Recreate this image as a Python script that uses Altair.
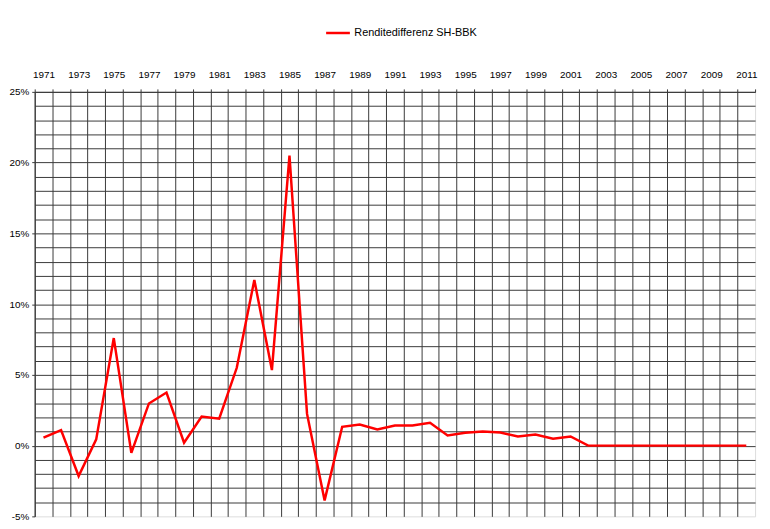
import altair as alt
import pandas as pd

years = list(range(1971, 2012))
values = [0.56, 1.1, -2.15, 0.44, 7.6, -0.51, 2.98, 3.75, 0.21, 2.05,
          1.9, 5.5, 11.7, 5.34, 20.5, 2.24, -3.87, 1.33, 1.49, 1.14,
          1.42, 1.42, 1.61, 0.72, 0.91, 1.0, 0.93, 0.65, 0.79, 0.49,
          0.65, 0, 0, 0, 0, 0, 0, 0, 0, 0, 0]
series_name = "Renditedifferenz SH-BBK"

x_bounds = [y - 0.5 for y in years] + [years[-1] + 0.5]
y_ticks = list(range(-5, 26))

df = pd.DataFrame({"year": years, "value": values, "series": series_name})

W, H = 728, 429
half_cat = W / len(years) / 2

grid_color = "#3a3a3a"

chart = alt.Chart(df).mark_line(strokeWidth=2.5).encode(
    x=alt.X("year:Q",
            scale=alt.Scale(domain=[x_bounds[0], x_bounds[-1]], nice=False, zero=False),
            axis=alt.Axis(orient="top", values=x_bounds, title=None,
                          labelExpr="(floor(datum.value + 0.5) % 2 == 1) ? toString(floor(datum.value + 0.5)) : ''",
                          labelOffset=half_cat, labelOverlap=False, labelFlush=False, labelBound=False,
                          labelFont="Liberation Sans", labelFontSize=10, labelColor="#000000",
                          tickSize=3, tickColor=grid_color, labelPadding=10,
                          domainColor=grid_color, grid=True, gridColor=grid_color,
                          gridOpacity={"condition": {"test": "datum.value > 2011", "value": 0}, "value": 1})),
    y=alt.Y("value:Q",
            scale=alt.Scale(domain=[-5, 25], nice=False, zero=False),
            axis=alt.Axis(values=y_ticks, title=None,
                          labelExpr="(datum.value % 5 == 0) ? (datum.value + '%') : ''",
                          labelOverlap=False, labelFlush=False, labelBound=False,
                          labelFont="Liberation Sans", labelFontSize=10, labelColor="#000000",
                          tickSize=3, tickColor=grid_color, labelPadding=3,
                          tickOpacity={"condition": {"test": "datum.value % 5 == 0", "value": 1}, "value": 0},
                          domainColor=grid_color, grid=True, gridColor=grid_color,
                          gridOpacity={"condition": {"test": "datum.value < -4", "value": 0}, "value": 1})),
    color=alt.Color("series:N", scale=alt.Scale(range=["#ff0000"]),
                    legend=alt.Legend(title=None, orient="none", legendX=293, legendY=-73,
                                      symbolType="stroke", symbolStrokeWidth=2.5, symbolSize=576,
                                      labelFont="Liberation Sans", labelFontSize=11, labelColor="#000000",
                                      padding=0, labelOffset=3)),
).properties(
    width=W, height=H,
    autosize=alt.AutoSizeParams(type="none"),
    padding={"left": 27, "top": 82, "right": 7, "bottom": 10},
).configure_view(
    stroke="#c0c0c0", strokeWidth=2
).configure(background="white")

chart.save("out.html", embed_options={"renderer": "svg", "actions": False})
